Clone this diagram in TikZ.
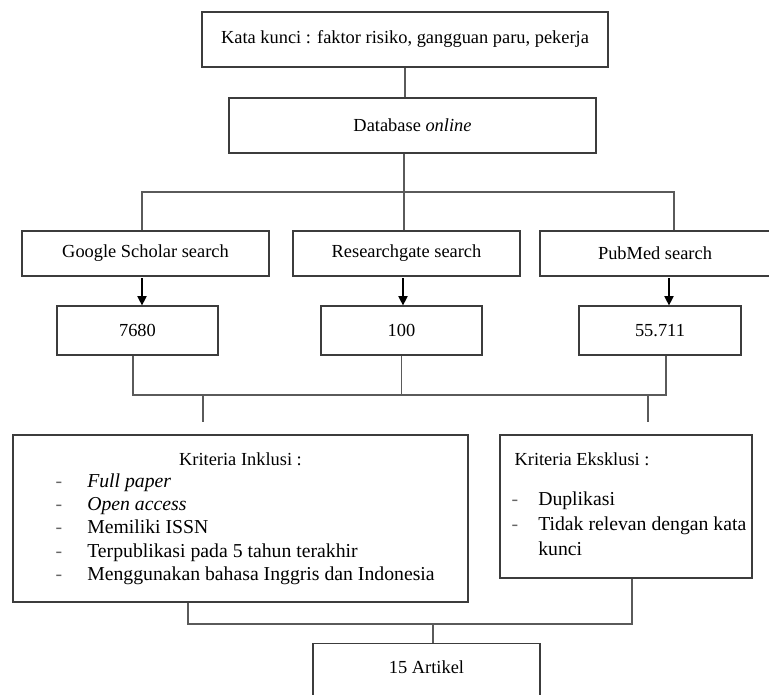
\documentclass[tikz,border=0pt]{standalone}
\usepackage{fontspec}
\setmainfont{Liberation Serif}
\usetikzlibrary{arrows.meta,positioning,calc}
\definecolor{lnblack}{RGB}{60,60,60}
\definecolor{lngray}{RGB}{90,90,90}
\tikzset{
  box/.style={draw=lnblack, line width=0.9pt, fill=white, inner sep=0pt, font=\fontsize{13.8}{16}\selectfont},
  item/.style={inner sep=0pt, anchor=base west, font=\fontsize{14.8}{17}\selectfont},
  bullet/.style={inner sep=0pt, anchor=base, text=black!60, font=\fontsize{14.8}{17}\selectfont},
  conn/.style={draw=lngray, line width=0.85pt},
  arr/.style={draw=black, line width=0.85pt, -{Triangle[length=7pt,width=7pt]}}
}

\begin{document}
\begin{tikzpicture}[x=0.75pt, y=-0.75pt]
  \useasboundingbox (0,0) rectangle (769,694);

  % Search terms and database
  \node[box, minimum width=304.5pt, minimum height=41.25pt] (kata) at (405,39.5) {Kata kunci : faktor risiko, gangguan paru, pekerja};
  \node[box, minimum width=275.25pt, minimum height=41.25pt] (db) at (412.5,125.5) {Database \textit{online}};

  % Search engines
  \node[box, minimum width=185.25pt, minimum height=33.75pt] (gs) at (145.5,253.5) {Google Scholar search};
  \node[box, minimum width=170.25pt, minimum height=33.75pt] (rg) at (406.5,253.5) {Researchgate search};
  \node[box, minimum width=172.5pt, minimum height=33.75pt] (pm) at (655,253.5) {PubMed search};

  % Hits
  \node[box, minimum width=120.75pt, minimum height=36.75pt] (n1) at (137.5,330.5) {7680};
  \node[box, minimum width=120.75pt, minimum height=36.75pt] (n2) at (401.5,330.5) {100};
  \node[box, minimum width=121.5pt, minimum height=36.75pt] (n3) at (660,330.5) {55.711};

  % Criteria
  \node[box, minimum width=341.25pt, minimum height=125.25pt] (inkl) at (240.5,518.5) {};
  \node[box, draw=none, fill=none] (inklhead) at (240.5,459) {Kriteria Inklusi :};
  \node[item] (i1) at (87,487) {\textit{Full paper}};
  \node[item] (i2) at (87,510) {\textit{Open access}};
  \node[item] (i3) at (87,533) {Memiliki ISSN};
  \node[item] (i4) at (87,557) {Terpublikasi pada 5 tahun terakhir};
  \node[item] (i5) at (87,580) {Menggunakan bahasa Inggris dan Indonesia};
  \foreach \y in {487,510,533,557,580}
    \node[bullet] at (59,\y) {-};

  \node[box, minimum width=189pt, minimum height=107.25pt] (eksk) at (626,506.5) {};
  \node[box, draw=none, fill=none, anchor=west] (ekskhead) at (514,459) {Kriteria Eksklusi :};
  \node[item] (e1) at (538,505) {Duplikasi};
  \node[item] (e2) at (538,530) {Tidak relevan dengan kata};
  \node[item] (e3) at (538,555) {kunci};
  \foreach \y in {505,530}
    \node[bullet] at (515,\y) {-};

  % Result
  \node[box, minimum width=170.25pt, minimum height=60pt, anchor=north] (hasil) at (426.5,643) {};
  \node[box, draw=none, fill=none] (hasiltxt) at (426.5,667) {15 Artikel};

  % Connectors
  \coordinate (j1) at (404,192);
  \coordinate (bl) at (142,192);
  \coordinate (br) at (674,192);
  \draw[conn] (kata.south) -- (kata.south |- db.north);
  \draw[conn] (db.south -| j1) -- (j1);
  \draw[conn] (bl |- gs.north) -- (bl) -- (br) -- (br |- pm.north);
  \draw[conn] (j1) -- (j1 |- rg.north);

  \coordinate (a1) at (142,278);
  \coordinate (a2) at (403,278);
  \coordinate (a3) at (669,278);
  \draw[arr] (a1) -- (a1 |- n1.north);
  \draw[arr] (a2) -- (a2 |- n2.north);
  \draw[arr] (a3) -- (a3 |- n3.north);

  \coordinate (lb) at (133,395);
  \coordinate (rb) at (666,395);
  \coordinate (ti) at (203,422);
  \coordinate (te) at (648,422);
  \draw[conn] (n1.south -| lb) -- (lb) -- (rb) -- (n3.south -| rb);
  \draw[conn] (n2.south) -- (n2.south |- lb);
  \draw[conn] (ti |- lb) -- (ti);
  \draw[conn] (te |- lb) -- (te);

  \coordinate (hl) at (188,624);
  \coordinate (hr) at (632,624);
  \coordinate (hm) at (433,624);
  \draw[conn] (inkl.south -| hl) -- (hl) -- (hr) -- (eksk.south -| hr);
  \draw[conn] (hm) -- (hasil.north -| hm);
\end{tikzpicture}
\end{document}
